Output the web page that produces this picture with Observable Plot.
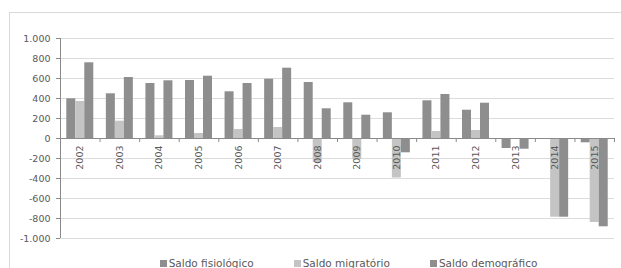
<!DOCTYPE html>
<html>
<head>
<meta charset="utf-8">
<script src="https://cdn.jsdelivr.net/npm/d3@7"></script>
<script src="https://cdn.jsdelivr.net/npm/@observablehq/plot@0.6"></script>
<style>
  html, body { margin: 0; padding: 0; background: #fff; overflow: hidden; width: 621px; height: 268px; }
  #frame { position: absolute; left: 9px; top: 12px; width: 700px; height: 400px; border: 1px solid #d9d9d9; }
  #chart { position: absolute; left: 0; top: 0; }
  #legend { position: absolute; left: 0; top: 257px; width: 621px; display: flex; justify-content: center; gap: 40px;
            font-family: "DejaVu Sans", sans-serif; font-size: 10.5px; color: #595959; padding-left: 76px; box-sizing: border-box; }
  .item { display: flex; align-items: center; white-space: nowrap; }
  .sw { width: 7px; height: 7px; margin-right: 2px; display: inline-block; }
</style>
</head>
<body>
<div id="frame"></div>
<div id="chart"></div>
<div id="legend"></div>
<script>
const years = ["2002","2003","2004","2005","2006","2007","2008","2009","2010","2011","2012","2013","2014","2015"];
const saldoFisiologico = [397, 447, 550, 580, 467, 593, 560, 357, 257, 377, 283, -100, -5, -43];
const saldoMigratorio  = [370, 173, 27, 50, 90, 110, -240, -210, -395, 70, 80, -5, -787, -840];
const saldoDemografico = [757, 610, 577, 623, 550, 703, 297, 233, -143, 440, 353, -107, -787, -883];
const seriesNames = ["Saldo fisiológico", "Saldo migratório", "Saldo demográfico"];
const seriesColors = ["#8e8e8e", "#c4c4c4", "#8e8e8e"];
const yTicks = [-1000, -800, -600, -400, -200, 0, 200, 400, 600, 800, 1000];

const rows = years.map((year, i) => ({
  year,
  fis: saldoFisiologico[i],
  mig: saldoMigratorio[i],
  dem: saldoDemografico[i]
}));

const W = 621, H = 250, mL = 60, mR = 7, mT = 38, mB = 12;
const bw = (W - mL - mR) / years.length;
const barW = 9;
const lead = (bw - 3 * barW) / 2;

const loc = d3.formatLocale({decimal: ",", thousands: ".", grouping: [3], currency: ["", "€"], minus: "-"});
const fmt = loc.format(",");

const textColor = "#595959";
const axisColor = "#8a8a8a";

const chart = Plot.plot({
  width: W,
  height: H,
  marginLeft: mL,
  marginRight: mR,
  marginTop: mT,
  marginBottom: mB,
  style: {fontFamily: "DejaVu Sans, sans-serif", fontSize: "9.5px", color: textColor, background: "transparent"},
  x: {type: "band", domain: years, padding: 0, round: false, axis: null},
  y: {domain: [-1000, 1000], axis: null},
  marks: [
    Plot.ruleY(yTicks, {stroke: "#dcdcdc", strokeWidth: 1}),
    Plot.barY(rows, {x: "year", y: "fis", fill: seriesColors[0], insetLeft: lead, insetRight: bw - lead - barW}),
    Plot.barY(rows, {x: "year", y: "mig", fill: seriesColors[1], insetLeft: lead + barW, insetRight: bw - lead - 2 * barW}),
    Plot.barY(rows, {x: "year", y: "dem", fill: seriesColors[2], insetLeft: lead + 2 * barW, insetRight: lead}),
    Plot.ruleY([0], {stroke: axisColor, strokeWidth: 1}),
    // category boundary ticks
    Plot.ruleX(years, {x: d => d, dx: -bw / 2, y1: 0, y2: -40, stroke: axisColor}),
    Plot.ruleX([years[years.length - 1]], {x: d => d, dx: bw / 2, y1: 0, y2: -40, stroke: axisColor}),
    // y axis line
    Plot.ruleX([years[0]], {x: d => d, dx: -bw / 2, y1: -1000, y2: 1000, stroke: axisColor}),
    Plot.axisY({ticks: yTicks, tickFormat: fmt, tickSize: 4, tickPadding: 6, stroke: axisColor, fill: textColor, fontSize: 9.5}),
    Plot.text(years, {x: d => d, y: 0, text: d => d, rotate: -90, textAnchor: "end", dy: 7, fill: textColor, fontSize: 9.5})
  ]
});
document.getElementById("chart").appendChild(chart);

const legend = document.getElementById("legend");
seriesNames.forEach((name, i) => {
  const item = document.createElement("div");
  item.className = "item";
  const sw = document.createElement("span");
  sw.className = "sw";
  sw.style.background = seriesColors[i];
  item.appendChild(sw);
  item.appendChild(document.createTextNode(name));
  legend.appendChild(item);
});
</script>
</body>
</html>
